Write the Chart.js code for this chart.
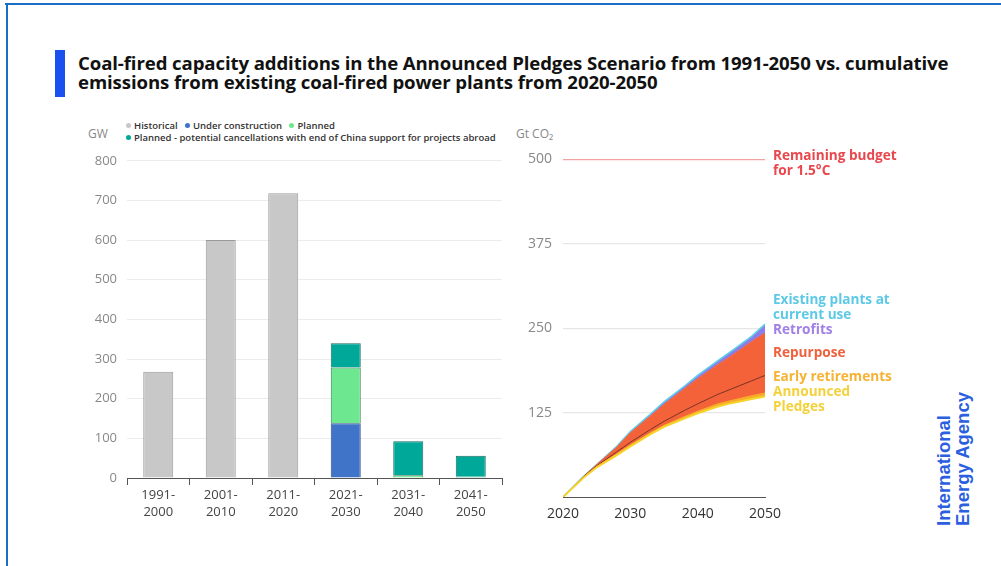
<!DOCTYPE html>
<html>
<head>
<meta charset="utf-8">
<script src="https://cdn.jsdelivr.net/npm/chart.js@4.4.0/dist/chart.umd.min.js"></script>
<style>
  body { margin: 0; width: 1001px; height: 566px; background: #fff; position: relative; overflow: hidden; font-family: "Open Sans", sans-serif; }
  .abs { position: absolute; }
  #frameTop { left: 5px; top: 3px; width: 1000px; height: 2px; background: #1a6fc4; }
  #frameLeft { left: 6px; top: 3px; width: 2px; height: 570px; background: #1a6fc4; }
  #titleBar { left: 55px; top: 50px; width: 10px; height: 47px; background: #1a4ff0; }
  #title { left: 78px; top: 53px; font-size: 18.6px; font-weight: 700; line-height: 19px; color: #111; white-space: nowrap; letter-spacing: -0.1px; }
  .unit { font-size: 12px; color: #888; }
  .leg { font-size: 9.5px; font-weight: 600; color: #333; white-space: nowrap; }
  .dot { display: inline-block; width: 5px; height: 5px; border-radius: 50%; margin: 0 3px 1px 0; vertical-align: middle; }
  .lab { font-size: 13.6px; font-weight: 700; line-height: 15px; white-space: nowrap; }
  #iea { left: 883px; top: 437px; width: 140px; transform: rotate(-90deg); transform-origin: center; color: #2b5fe0; font-family: "Liberation Sans", sans-serif; font-weight: 700; font-size: 18.5px; line-height: 19px; }
</style>
</head>
<body>
<div class="abs" id="frameTop"></div>
<div class="abs" id="frameLeft"></div>
<div class="abs" id="titleBar"></div>
<div class="abs" id="title">Coal-fired capacity additions in the Announced Pledges Scenario from 1991-2050 vs. cumulative<br>emissions from existing coal-fired power plants from 2020-2050</div>

<div class="abs unit" style="left:88px; top:125px;">GW</div>
<div class="abs leg" style="left:126px; top:119px;"><span class="dot" style="background:#c8c8c8"></span>Historical &nbsp; <span class="dot" style="background:#3f74c9"></span>Under construction &nbsp; <span class="dot" style="background:#6ee890"></span>Planned</div>
<div class="abs leg" style="left:126px; top:131px;"><span class="dot" style="background:#00a89a"></span>Planned - potential cancellations with end of China support for projects abroad</div>

<div class="abs unit" style="left:516px; top:125px;">Gt CO₂</div>

<div class="abs" style="left:80px; top:143px; width:432px; height:387px;"><canvas id="bars"></canvas></div>
<div class="abs" style="left:510px; top:140px; width:285px; height:386px;"><canvas id="emis"></canvas></div>

<div class="abs lab" style="left:773px; top:147px; color:#e8474d;">Remaining budget<br>for 1.5°C</div>
<div class="abs lab" style="left:773px; top:291px; color:#5cc9e6;">Existing plants at<br>current use</div>
<div class="abs lab" style="left:773px; top:321px; color:#a07fe6;">Retrofits</div>
<div class="abs lab" style="left:773px; top:344px; color:#f0603c;">Repurpose</div>
<div class="abs lab" style="left:773px; top:368px; color:#f5b233;">Early retirements</div>
<div class="abs lab" style="left:773px; top:383px; color:#f4d13a;">Announced<br>Pledges</div>

<div class="abs" id="iea">International<br>Energy Agency</div>

<script>
// left panel: capacity additions, GW
const categories = [["1991-", "2000"], ["2001-", "2010"], ["2011-", "2020"], ["2021-", "2030"], ["2031-", "2040"], ["2041-", "2050"]];
const historical = [268, 600, 718, 0, 0, 0];
const underConstruction = [0, 0, 0, 138, 0, 0];
const planned = [0, 0, 0, 141, 7, 3];
const cancellations = [0, 0, 0, 61, 86, 53];

// right panel: cumulative emissions, Gt CO2
const years = [2020, 2023, 2025, 2028, 2030, 2033, 2035, 2038, 2040, 2043, 2045, 2048, 2050];
const existing = [0, 30, 48, 75, 97, 123, 141, 164, 180, 202, 216, 238, 256];
const retrofits = [0, 30, 48, 74, 95, 120, 137, 160, 175, 196, 209, 230, 243];
const repurpose = [0, 30, 46, 67, 81, 100, 112, 128, 138, 152, 160, 172, 180];
const earlyRetirements = [0, 29, 45, 64, 77, 95, 106, 119, 127, 138, 143, 150, 154];
const pledges = [0, 28, 44, 62, 75, 93, 104, 116, 124, 134, 139, 145, 149];
const budget = 500;

Chart.defaults.font.family = "'Open Sans', sans-serif";
Chart.defaults.animation = false;

new Chart(document.getElementById('bars'), {
    type: 'bar',
    data: {
        labels: categories,
        datasets: [
            { label: 'Historical', data: historical, backgroundColor: '#c8c8c8', borderColor: '#9a9a9a', borderWidth: 1 },
            { label: 'Under construction', data: underConstruction, backgroundColor: '#3f74c9', borderColor: '#2f4f80', borderWidth: 1 },
            { label: 'Planned', data: planned, backgroundColor: '#6ee890', borderColor: '#3d7a55', borderWidth: 1 },
            { label: 'Cancellations', data: cancellations, backgroundColor: '#00a89a', borderColor: '#1d6b62', borderWidth: 1 }
        ]
    },
    options: {
        responsive: true,
        maintainAspectRatio: false,
        layout: { padding: { top: 10, right: 10, left: 0, bottom: 0 } },
        datasets: { bar: { barPercentage: 0.48, categoryPercentage: 1 } },
        plugins: { legend: { display: false }, tooltip: { enabled: false } },
        scales: {
            x: {
                stacked: true,
                afterFit: s => { s.height = 52; },
                grid: { display: true, drawOnChartArea: false, offset: true, tickLength: 7, color: '#555' },
                border: { color: '#555', width: 1 },
                ticks: { color: '#444', font: { size: 13, lineHeight: 1.32 }, padding: 2 }
            },
            y: {
                stacked: true,
                min: 0, max: 800,
                afterFit: s => { s.width = 47; },
                grid: { color: '#ececec', drawTicks: false },
                border: { display: false },
                ticks: { stepSize: 100, color: '#888', font: { size: 13 }, padding: 10 }
            }
        }
    }
});

const pts = arr => years.map((y, i) => ({ x: y, y: arr[i] }));

new Chart(document.getElementById('emis'), {
    type: 'line',
    data: {
        datasets: [
            { label: 'Announced Pledges', data: pts(pledges), borderColor: '#f7d22a', borderWidth: 2, fill: false },
            { label: 'Early retirements', data: pts(earlyRetirements), borderColor: '#f5a623', borderWidth: 1, backgroundColor: '#f7ac2c', fill: '-1' },
            { label: 'Repurpose', data: pts(repurpose), borderColor: '#7a2e1e', borderWidth: 1, backgroundColor: '#f4623a', fill: '-1' },
            { label: 'Retrofits', data: pts(retrofits), borderColor: '#f4623a', borderWidth: 1, backgroundColor: '#f4623a', fill: '-1' },
            { label: 'Existing plants', data: pts(existing), borderColor: '#5fd0e8', borderWidth: 1.5, backgroundColor: '#8a7ee8', fill: '-1' }
        ]
    },
    options: {
        responsive: true,
        maintainAspectRatio: false,
        layout: { padding: { top: 10, right: 30, left: 0, bottom: 0 } },
        elements: { point: { radius: 0 }, line: { tension: 0 } },
        plugins: { legend: { display: false }, tooltip: { enabled: false } },
        scales: {
            x: {
                type: 'linear',
                min: 2020, max: 2050,
                afterFit: s => { s.height = 29; },
                grid: { display: false },
                border: { color: '#555', width: 1 },
                ticks: { stepSize: 10, color: '#333', font: { size: 14 }, padding: 1, callback: v => String(v) }
            },
            y: {
                min: 0, max: budget,
                afterFit: s => { s.width = 53; },
                grid: { color: ctx => ctx.tick.value === budget ? '#f2a3a3' : (ctx.tick.value === 0 ? 'rgba(0,0,0,0)' : '#e6e6e6'), drawTicks: false, lineWidth: 1.2 },
                border: { display: false },
                ticks: { stepSize: 125, color: '#888', font: { size: 14 }, padding: 11, callback: v => v === 0 ? '' : v }
            }
        }
    }
});
</script>
</body>
</html>
